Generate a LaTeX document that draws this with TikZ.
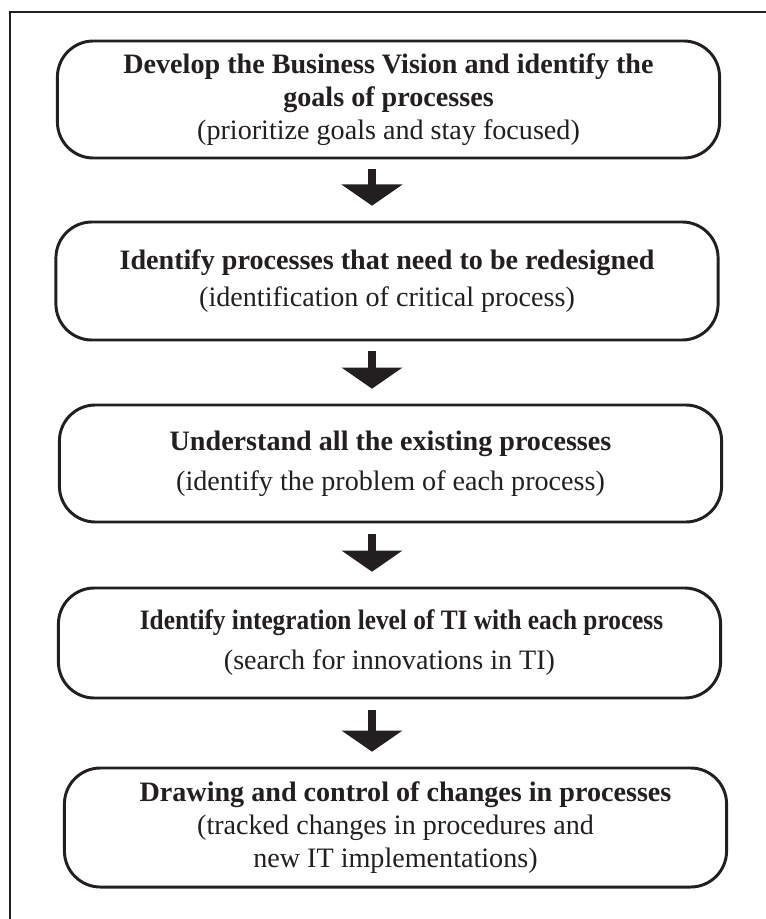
\documentclass[tikz,border=0pt]{standalone}
\usepackage{fontspec}
\usepackage{graphicx}
\setmainfont{Liberation Serif}
\usetikzlibrary{arrows.meta}

\definecolor{ink}{RGB}{35,31,32}

\tikzset{
    stage/.style={draw=ink, line width=2.1pt, rounded corners=0.9cm, align=center,
        minimum width=16.55cm, text=ink, font=\fontsize{20}{23.5}\selectfont},
    flow/.style={draw=ink, line width=0.2cm, -{Triangle[width=1.5cm, length=0.53cm]},
        shorten <=0.25cm, shorten >=0.37cm},
    frame/.style={draw=ink, line width=2pt}
}

\begin{document}
\begin{tikzpicture}[x=0.025cm, y=-0.025cm]
    \useasboundingbox (0,0) rectangle (766,919); % page size in pixels

    \draw[frame] (10,919) -- (10,12) -- (766,12); % open frame, left and top

    % the five stages
    \node[stage, minimum height=2.925cm] (vision) at (388.5,99.5)
        {\textbf{Develop the Business Vision and identify the}\\
         \textbf{goals of processes}\\[0pt]
         (prioritize goals and stay focused)};
    \node[stage, minimum height=2.95cm] (select) at (387,281)
        {\textbf{Identify processes that need to be redesigned}\\[3pt]
         (identification of critical process)};
    \node[stage, minimum height=2.925cm] (understand) at (390.5,463.5)
        {\textbf{Understand all the existing processes}\\[5pt]
         (identify the problem of each process)};
    \node[stage, minimum height=2.75cm] (integrate) at (389.5,643)
        {\hspace*{0.6cm}\scalebox{0.9}[1]{\textbf{Identify integration level of TI with each process}}\\[5pt]
         (search for innovations in TI)};
    \node[stage, minimum height=2.975cm] (redesign) at (395.5,827.5)
        {\hspace*{0.5cm}\textbf{Drawing and control of changes in processes}\\[0pt]
         (tracked changes in procedures and\\
         new IT implementations)};

    % arrows run down a common axis, left of the box centres
    \coordinate (axis) at (372,0);
    \foreach \a/\b in {vision/select, select/understand, understand/integrate, integrate/redesign}{
        \draw[flow] (\a.south -| axis) -- (\b.north -| axis);
    }
\end{tikzpicture}
\end{document}
